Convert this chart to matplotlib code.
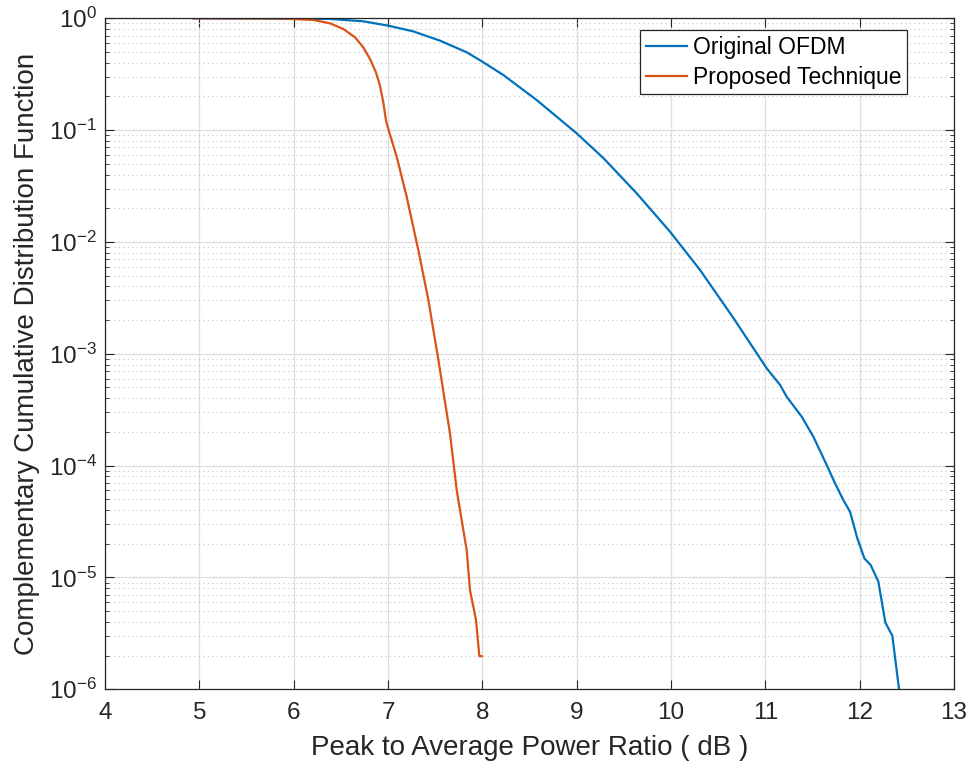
import numpy as np
import matplotlib.pyplot as plt
from matplotlib.ticker import LogLocator, NullFormatter

plt.rcParams['font.family'] = ['Liberation Sans', 'DejaVu Sans']
plt.rcParams['mathtext.fontset'] = 'custom'
plt.rcParams['mathtext.rm'] = 'Liberation Sans'
plt.rcParams['mathtext.it'] = 'Liberation Sans'
plt.rcParams['axes.unicode_minus'] = False

# Original OFDM: PAPR (dB) and log10(CCDF)
orig_x = [4.94, 5.5, 6.0, 6.385, 6.738, 7.003, 7.268, 7.551, 7.834, 8.0, 8.222,
          8.576, 9.0, 9.283, 9.636, 9.99, 10.308, 10.661, 11.015, 11.156, 11.227,
          11.386, 11.509, 11.651, 11.739, 11.827, 11.898, 11.975, 12.05, 12.117,
          12.198, 12.272, 12.346, 12.417]
orig_logy = [0.0, -0.001, -0.003, -0.006, -0.027, -0.066, -0.117, -0.200, -0.304,
             -0.388, -0.507, -0.731, -1.029, -1.25, -1.565, -1.909, -2.251, -2.68,
             -3.131, -3.279, -3.385, -3.563, -3.742, -3.996, -4.159, -4.309, -4.413,
             -4.651, -4.83, -4.89, -5.039, -5.403, -5.522, -6.0]

# Proposed technique
prop_x = [4.936, 5.5, 5.855, 6.208, 6.385, 6.527, 6.65, 6.738, 6.809, 6.872, 6.915,
          6.95, 6.979, 7.003, 7.092, 7.198, 7.321, 7.428, 7.534, 7.657, 7.728, 7.834,
          7.869, 7.933, 7.968, 7.993]
prop_logy = [0.0, -0.001, -0.002, -0.015, -0.045, -0.096, -0.17, -0.26, -0.364,
             -0.483, -0.603, -0.751, -0.916, -0.99, -1.238, -1.596, -2.072, -2.52,
             -3.056, -3.712, -4.219, -4.756, -5.114, -5.382, -5.704, -5.704]

fig = plt.figure(figsize=(9.75, 7.75), dpi=100)
ax = fig.add_axes([0.1077, 0.1106, 0.8708, 0.8658])

ax.semilogy(orig_x, 10.0 ** np.array(orig_logy), color='#0072BD', lw=1.6,
            label='Original OFDM', solid_joinstyle='round')
ax.semilogy(prop_x, 10.0 ** np.array(prop_logy), color='#D95319', lw=1.6,
            label='Proposed Technique', solid_joinstyle='round')

ax.set_xlim(4, 13)
ax.set_ylim(1e-6, 1)
ax.set_xticks(range(4, 14))
ax.yaxis.set_major_locator(LogLocator(base=10, numticks=10))
ax.yaxis.set_minor_locator(LogLocator(base=10, subs=np.arange(2, 10), numticks=20))
ax.yaxis.set_minor_formatter(NullFormatter())

ax.grid(True, which='major', color='#dedede', lw=0.9, ls='-')
ax.grid(True, which='minor', axis='y', color='#c4c4c4', lw=0.8, ls=(0, (1, 3)))
ax.set_axisbelow(True)

ax.tick_params(which='both', direction='in', top=True, right=True,
               labelsize=17.5, color='#262626', labelcolor='#262626')
ax.tick_params(which='major', length=6.5)
ax.tick_params(which='minor', length=3)
ax.tick_params(axis='x', pad=9)
ax.tick_params(axis='y', pad=6)
for s in ax.spines.values():
    s.set_color('#262626')
    s.set_linewidth(0.9)

ax.set_xlabel('Peak to Average Power Ratio ( dB )', fontsize=20, color='#262626',
              labelpad=8)
ax.set_ylabel('Complementary Cumulative Distribution Function', fontsize=20,
              color='#262626', labelpad=6)

leg = ax.legend(loc='upper right', bbox_to_anchor=(0.9446, 0.9826), borderaxespad=0,
                fontsize=16.5, fancybox=False, framealpha=1, edgecolor='#262626',
                handlelength=1.8, handletextpad=0.25, borderpad=0.25,
                labelspacing=0.3)
leg.get_frame().set_linewidth(0.9)

fig.savefig('out.png', dpi=100)
